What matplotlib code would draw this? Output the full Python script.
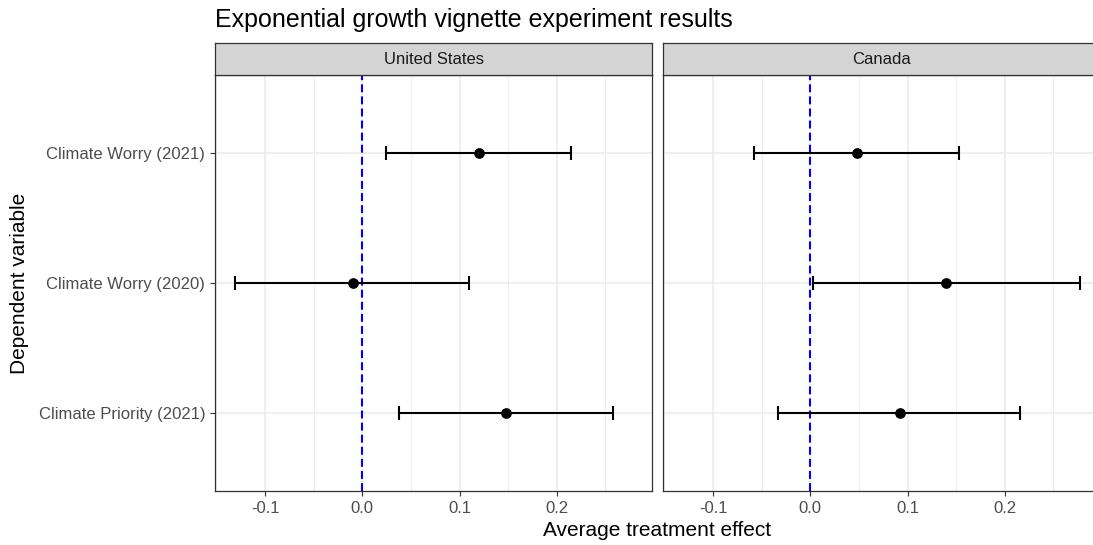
import matplotlib
matplotlib.use('Agg')
import matplotlib.pyplot as plt

plt.rcParams['font.family'] = ['Liberation Sans', 'DejaVu Sans']

# data
outcomes = ['Climate Worry (2021)', 'Climate Worry (2020)', 'Climate Priority (2021)']
countries = ['United States', 'Canada']
us_est = [0.120, -0.010, 0.148]
us_lo = [0.024, -0.131, 0.038]
us_hi = [0.215, 0.110, 0.258]
ca_est = [0.048, 0.140, 0.092]
ca_lo = [-0.058, 0.003, -0.033]
ca_hi = [0.153, 0.2775, 0.216]
xticks = [-0.1, 0.0, 0.1, 0.2]
xtick_labels = ['-0.1', '0.0', '0.1', '0.2']

panels = [(us_est, us_lo, us_hi), (ca_est, ca_lo, ca_hi)]

# shared x range with ggplot-like 5% expansion
all_lo = min(us_lo + ca_lo)
all_hi = max(us_hi + ca_hi)
pad = (all_hi - all_lo) * 0.05
xlim = (all_lo - pad, all_hi + pad)

W, H = 1093, 545
fig = plt.figure(figsize=(W / 100, H / 100), dpi=100)

panel_w = 437
panel_lefts = [215, 663]
panel_top, panel_bot = 75, 491
strip_top = 43

grid_major = '#EBEBEB'
dark = '#333333'

for i, (est, lo, hi) in enumerate(panels):
    left = panel_lefts[i]
    ax = fig.add_axes([left / W, 1 - panel_bot / H, panel_w / W, (panel_bot - panel_top) / H])
    ypos = list(range(len(outcomes)))

    ax.set_xlim(*xlim)
    ax.set_ylim(len(outcomes) - 1 + 0.6, -0.6)

    # grid
    for xv in xticks:
        ax.axvline(xv, color=grid_major, lw=1.1, zorder=0)
    for xv in [-0.15, -0.05, 0.05, 0.15, 0.25]:
        ax.axvline(xv, color=grid_major, lw=0.6, zorder=0)
    for yv in ypos:
        ax.axhline(yv, color=grid_major, lw=1.1, zorder=0)

    ax.axvline(0, color='#0000FF', lw=1.5, ls=(0, (3.8, 2)), zorder=1)

    xerr = [[e - l for e, l in zip(est, lo)], [h - e for e, h in zip(est, hi)]]
    ax.errorbar(est, ypos, xerr=xerr, fmt='o', color='black', ms=6.7,
                elinewidth=1.5, capsize=4.7, capthick=1.5, zorder=3)

    ax.set_xticks(xticks)
    ax.set_xticklabels(xtick_labels)
    ax.set_yticks(ypos)
    ax.tick_params(colors=dark, labelcolor='#4D4D4D', labelsize=12, length=3.5, width=0.8)
    if i == 0:
        ax.set_yticklabels(outcomes)
    else:
        ax.set_yticklabels([])
        ax.tick_params(axis='y', length=0)
    for s in ax.spines.values():
        s.set_color(dark)
        s.set_linewidth(0.9)

    # facet strip
    sax = fig.add_axes([left / W, 1 - panel_top / H, panel_w / W, (panel_top - strip_top) / H])
    sax.set_facecolor('#D4D4D4')
    sax.set_xticks([])
    sax.set_yticks([])
    for s in sax.spines.values():
        s.set_color(dark)
        s.set_linewidth(0.9)
    sax.text(0.5, 0.5, countries[i], ha='center', va='center', fontsize=12,
             color='#1A1A1A', transform=sax.transAxes)

fig.text(215 / W, 1 - 20 / H, 'Exponential growth vignette experiment results',
         ha='left', va='center', fontsize=18)
fig.text(657 / W, 1 - 531 / H, 'Average treatment effect', ha='center', va='center', fontsize=15)
fig.text(20 / W, 1 - 283 / H, 'Dependent variable', ha='center', va='center',
         rotation=90, fontsize=15)

fig.savefig('out.png', dpi=100)
